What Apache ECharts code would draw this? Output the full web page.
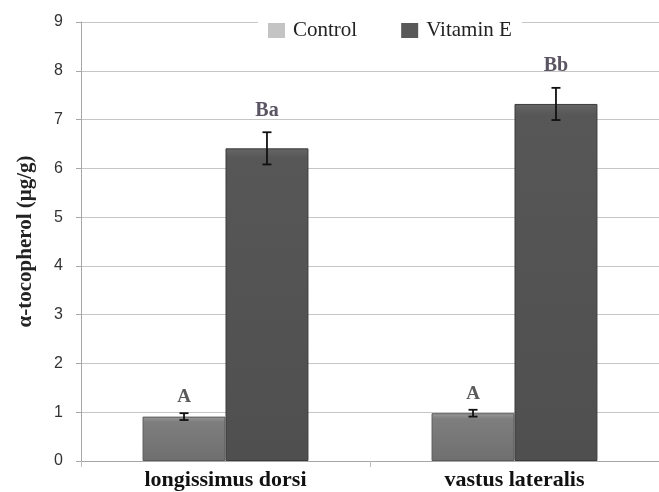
<!DOCTYPE html>
<html><head><meta charset="utf-8">
<script src="https://cdn.jsdelivr.net/npm/echarts@6/dist/echarts.min.js"></script>
<style>html,body{margin:0;padding:0;background:#fff}#c{width:659px;height:492px}</style>
</head><body><div id="c"></div>
<script>
const categories = ['longissimus dorsi', 'vastus lateralis'];
const controlValues = [0.91, 0.98];
const controlErrors = [0.07, 0.07];
const vitaminValues = [6.41, 7.32];
const vitaminErrors = [0.33, 0.33];
const controlLetters = ['A', 'A'];
const vitaminLetters = ['Ba', 'Bb'];
const yTicks = [0, 1, 2, 3, 4, 5, 6, 7, 8, 9];

const BAR_FRAC = 0.287;
function errorSeries(values, errors, side) {
  return {
    type: 'custom',
    z: 10,
    silent: true,
    data: values.map((v, i) => [i, v - errors[i], v + errors[i]]),
    renderItem: function (params, api) {
      const band = api.size([1, 0])[0];
      const off = side * band * BAR_FRAC / 2;
      const lo = api.coord([api.value(0), api.value(1)]);
      const hi = api.coord([api.value(0), api.value(2)]);
      const x = lo[0] + off;
      const w = 4.5;
      const st = { stroke: '#111', lineWidth: 1.8 };
      return { type: 'group', children: [
        { type: 'line', shape: { x1: x, y1: lo[1], x2: x, y2: hi[1] }, style: st },
        { type: 'line', shape: { x1: x - w, y1: lo[1], x2: x + w, y2: lo[1] }, style: st },
        { type: 'line', shape: { x1: x - w, y1: hi[1], x2: x + w, y2: hi[1] }, style: st }
      ]};
    }
  };
}

const chart = echarts.init(document.getElementById('c'));
chart.setOption({
  animation: false,
  backgroundColor: '#fff',
  textStyle: { fontFamily: 'Liberation Serif' },
  grid: { left: 81, right: 0, top: 22, bottom: 31, containLabel: false },
  legend: {
    top: 17, left: 258,
    backgroundColor: '#fff',
    padding: [3, 10],
    icon: 'rect',
    itemWidth: 17, itemHeight: 15, itemGap: 44,
    textStyle: { fontFamily: 'Liberation Serif', fontSize: 21, color: '#222', padding: [0, 0, 0, 3] },
    data: [
      { name: 'Control', itemStyle: { color: '#c4c4c4', borderWidth: 0 } },
      { name: 'Vitamin E', itemStyle: { color: '#595959', borderWidth: 0 } }
    ]
  },
  xAxis: {
    type: 'category', data: categories,
    axisLine: { lineStyle: { color: '#a6a6a6', width: 1 } },
    axisTick: { show: true, length: 6, lineStyle: { color: '#bdbdbd' } },
    axisLabel: { fontFamily: 'Liberation Serif', fontWeight: 'bold', fontSize: 22, color: '#111', margin: 8 }
  },
  yAxis: {
    type: 'value', min: 0, max: 9, interval: 1,
    name: 'α-tocopherol (μg/g)', nameLocation: 'middle', nameGap: 45, nameRotate: 90,
    nameTextStyle: { fontFamily: 'Liberation Serif', fontWeight: 'bold', fontSize: 21, color: '#222' },
    axisLine: { show: true, lineStyle: { color: '#a6a6a6', width: 1 } },
    axisTick: { show: true, length: 5, lineStyle: { color: '#a6a6a6' } },
    axisLabel: { fontFamily: 'Liberation Sans', fontSize: 16, color: '#333', margin: 18,
      formatter: v => yTicks.includes(v) ? String(v) : '' },
    splitLine: { lineStyle: { color: '#c6c6c6', width: 1.2 } }
  },
  series: [
    {
      name: 'Control', type: 'bar', data: controlValues, barWidth: (BAR_FRAC * 100) + '%', barGap: '0%',
      itemStyle: { color: { type: 'linear', x: 0, y: 0, x2: 0, y2: 1, colorStops: [
        { offset: 0, color: '#9a9a9a' }, { offset: 0.12, color: '#7e7e7e' }, { offset: 1, color: '#6f6f6f' }] },
        borderColor: '#5a5a5a', borderWidth: 1 },
      label: { show: true, position: 'top', distance: 10,
        formatter: p => controlLetters[p.dataIndex],
        fontFamily: 'Liberation Serif', fontWeight: 'bold', fontSize: 19, color: '#5a5a5a' }
    },
    {
      name: 'Vitamin E', type: 'bar', data: vitaminValues, barWidth: (BAR_FRAC * 100) + '%',
      itemStyle: { color: { type: 'linear', x: 0, y: 0, x2: 0, y2: 1, colorStops: [
        { offset: 0, color: '#666666' }, { offset: 0.03, color: '#575757' }, { offset: 1, color: '#4f4f4f' }] },
        borderColor: '#3a3a3a', borderWidth: 1 },
      label: { show: true, position: 'top', distance: 28,
        formatter: p => vitaminLetters[p.dataIndex],
        fontFamily: 'Liberation Serif', fontWeight: 'bold', fontSize: 20, color: '#5b5462' }
    },
    errorSeries(controlValues, controlErrors, -1),
    errorSeries(vitaminValues, vitaminErrors, 1)
  ]
});
</script></body></html>
